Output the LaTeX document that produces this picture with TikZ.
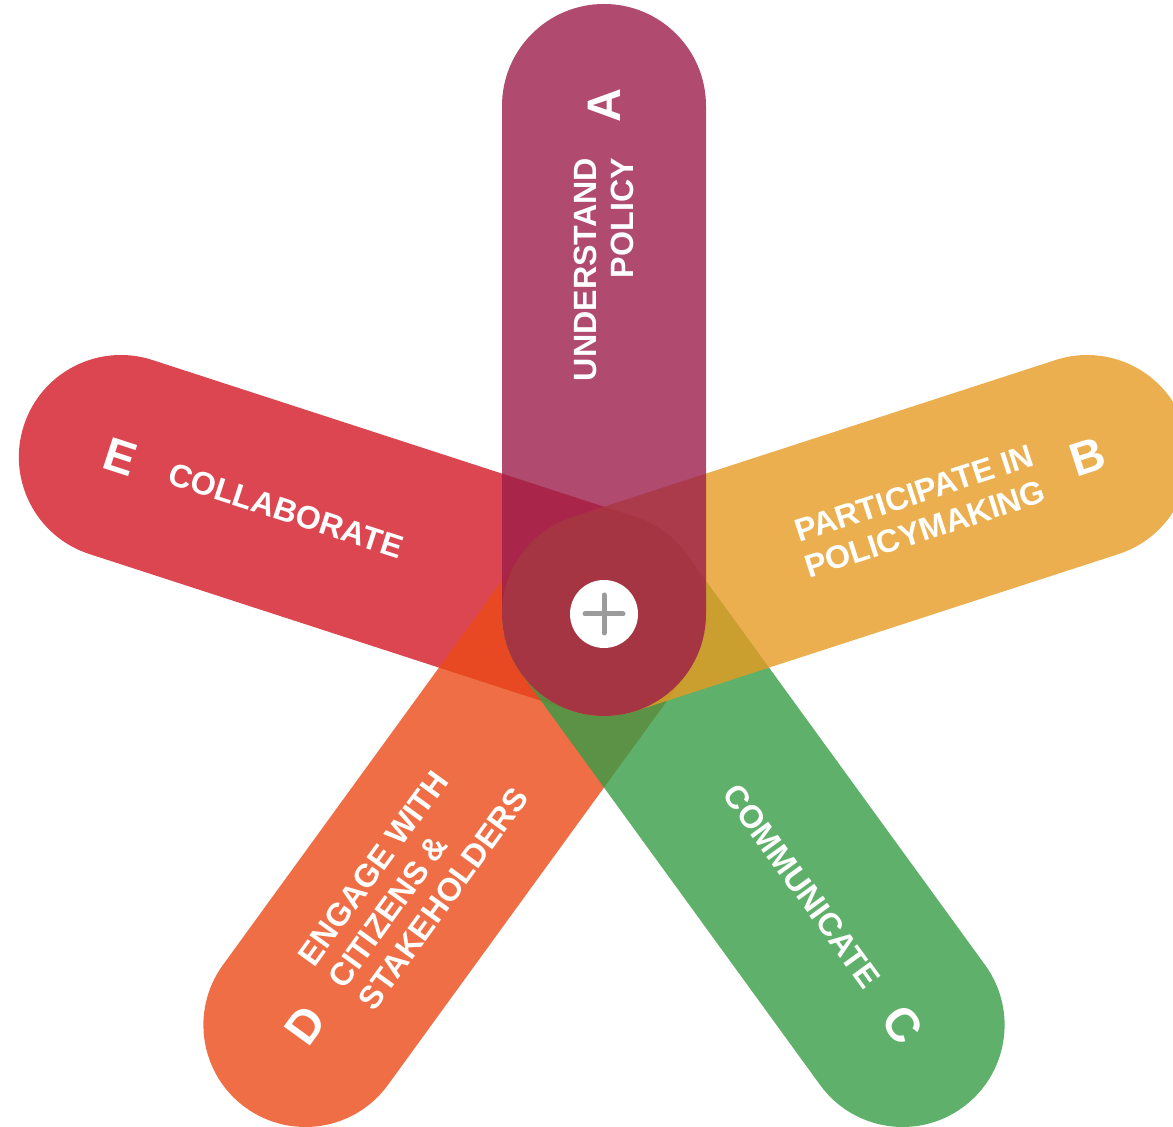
\documentclass[tikz,border=0pt]{standalone}
\usepackage{fontspec}
\setmainfont{Liberation Sans}
\usetikzlibrary{calc}
\definecolor{colA}{RGB}{156,29,74}
\definecolor{colB}{RGB}{230,155,35}
\definecolor{colC}{RGB}{55,156,69}
\definecolor{colD}{RGB}{236,74,23}
\definecolor{colE}{RGB}{211,24,36}
\definecolor{plusgray}{RGB}{155,155,155}
\begin{document}
\begin{tikzpicture}[x=1pt,y=1pt,
  petalfill/.style={fill=#1, fill opacity=0.8},
  lbl/.style={text=white, font=\bfseries\fontsize{32.2}{37.5}\selectfont, inner sep=0pt},
  letter/.style={text=white, font=\bfseries\fontsize{47}{47}\selectfont, inner sep=0pt}]
\useasboundingbox (0,0) rectangle (1173,1127);
\clip (0,0) rectangle (1173,1127);
\coordinate (O) at (604,513);
\foreach \ang/\col in {162/colE,-126/colD,-54/colC,18/colB,90/colA}{
  \fill[petalfill=\col, shift={(O)}, rotate=\ang]
    (0,-102) -- (508,-102) arc[start angle=-90,end angle=90,radius=102]
    -- (0,102) arc[start angle=90,end angle=270,radius=102] -- cycle;
}
% A
\node[lbl, rotate=90, anchor=east, align=right] (tA) at ($(O)+(90:456)$) {UNDERSTAND\\POLICY};
\node[letter, rotate=90] (lA) at ($(O)+(90:508)$) {A};
% B
\node[lbl, rotate=18, anchor=east, align=right] (tB) at ($(O)+(18:457)$) {PARTICIPATE IN\\POLICYMAKING};
\node[letter, rotate=18] (lB) at ($(O)+(18:508)$) {B};
% C
\node[lbl, rotate=-54, anchor=east, align=right] (tC) at ($(O)+(-54:458)$) {COMMUNICATE};
\node[letter, rotate=-54] (lC) at ($(O)+(-54:508)$) {C};
% D
\node[lbl, rotate=54, anchor=west, align=left] (tD) at ($(O)+(-126:457)$) {ENGAGE WITH\\CITIZENS \&\\STAKEHOLDERS};
\node[letter, rotate=54] (lD) at ($(O)+(-126:508)$) {D};
% E
\node[lbl, rotate=-18, anchor=west, align=left] (tE) at ($(O)+(162:457)$) {COLLABORATE};
\node[letter, rotate=-18] (lE) at ($(O)+(162:508)$) {E};
% centre
\node[circle, fill=white, minimum size=68pt, inner sep=0pt] (ctr) at (O) {};
\draw[plusgray, line width=5pt, line cap=round] ($(ctr.center)+(-19,0)$) -- ($(ctr.center)+(19,0)$);
\draw[plusgray, line width=5pt, line cap=round] ($(ctr.center)+(0,-19)$) -- ($(ctr.center)+(0,19)$);
\end{tikzpicture}
\end{document}
